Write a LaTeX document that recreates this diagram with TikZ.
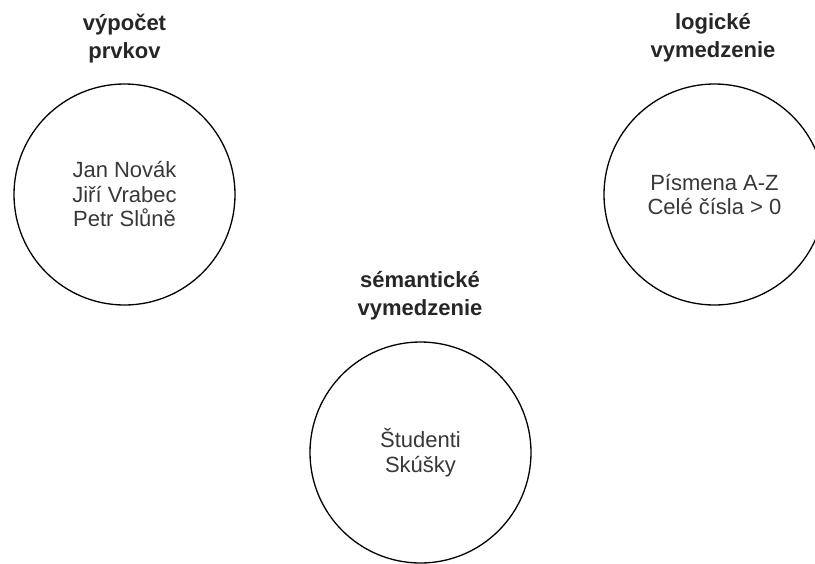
\documentclass[tikz,border=0pt]{standalone}
\usepackage{fontspec}
\setmainfont{Liberation Sans}
\begin{document}
\begin{tikzpicture}[x=1pt,y=-1pt,
  setcircle/.style={circle, draw=black, line width=1.3pt, minimum size=221pt,
    inner sep=0pt, align=center, text=black!78,
    font=\fontsize{22}{24.5}\selectfont},
  setlabel/.style={align=center, text=black!85,
    font=\fontsize{22}{28}\selectfont\bfseries}]
  \useasboundingbox (0,0) rectangle (815,563);
  \clip (0,0) rectangle (815,563);
  \fill[white] (0,0) rectangle (815,563);

  % enumeration of elements
  \node[setcircle] (enum) at (124.5,194.5) {Jan Novák\\Jiří Vrabec\\Petr Slůně};
  \node[setlabel] (enumlab) at (124.5,39) {výpočet\\prvkov};

  % logical definition
  \node[setcircle] (logic) at (714.5,194.5) {Písmena A-Z\\Celé čísla > 0};
  \node[setlabel] (logiclab) at (713,38) {logické\\vymedzenie};

  % semantic definition
  \node[setcircle] (sem) at (420.5,452.5) {Študenti\\Skúšky};
  \node[setlabel] (semlab) at (420,296) {sémantické\\vymedzenie};
\end{tikzpicture}
\end{document}
